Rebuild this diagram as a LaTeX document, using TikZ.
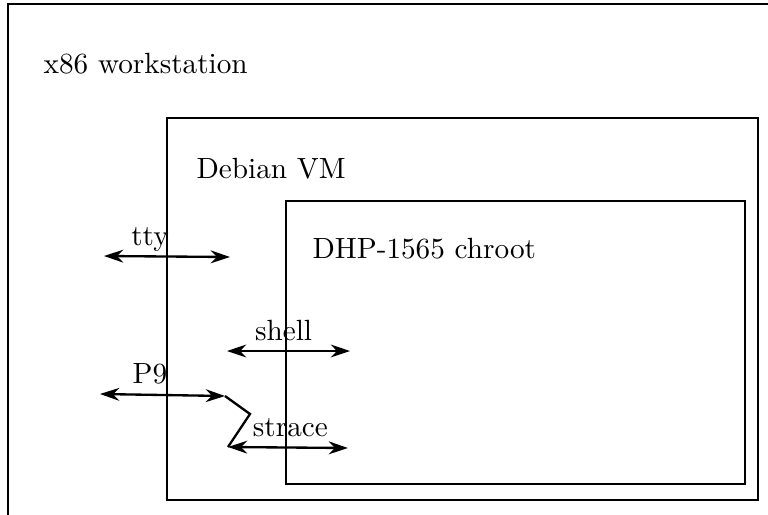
\documentclass[tikz,border=0pt]{standalone}
\usetikzlibrary{arrows.meta, positioning, fit}

\begin{document}
\begin{tikzpicture}[x=0.342pt, y=-0.342pt,
    box/.style={draw, thick, inner sep=0pt, outer sep=0pt},
    boxlabel/.style={anchor=base west, inner sep=0pt},
    link/.style={{Stealth[length=6.6pt, width=4.4pt]}-{Stealth[length=6.6pt, width=4.4pt]}, thick},
    linklabel/.style={above, text depth=0pt, inner sep=3.3pt}]
  \useasboundingbox (0,0) rectangle (768,514);
  \clip (0,0) rectangle (768,514);

  % nested hosts
  \coordinate (wsA) at (8,4);     \coordinate (wsB) at (800,560);
  \coordinate (vmA) at (167,118); \coordinate (vmB) at (758,500);
  \coordinate (chA) at (286,201); \coordinate (chB) at (745,484);
  \node[box, fit=(wsA)(wsB)] (ws) {};
  \node[box, fit=(vmA)(vmB)] (vm) {};
  \node[box, fit=(chA)(chB)] (chroot) {};
  \node[boxlabel] (wslabel) at (43,73) {x86 workstation};
  \node[boxlabel] (vmlabel) at (196,178) {Debian VM};
  \node[boxlabel] (chrootlabel) at (312,258) {DHP-1565 chroot};

  % channel ends
  \coordinate (ttyL) at (104,256);   \coordinate (ttyR) at (230,257);
  \coordinate (p9L) at (100,394);    \coordinate (p9R) at (225,396);
  \coordinate (shellL) at (227,351); \coordinate (shellR) at (350,351);
  \coordinate (strL) at (228,447);   \coordinate (strR) at (348,448);
  \coordinate (kink) at (250,414);

  \draw[link] (ttyL) -- node[linklabel, pos=0.365] (ttylabel) {tty} (ttyR);
  \draw[link] (p9L) -- node[linklabel, pos=0.4] (p9label) {P9} (p9R);
  \draw[link] (shellL) -- node[linklabel, pos=0.46] (shelllabel) {shell} (shellR);
  \draw[link] (strL) -- node[linklabel, pos=0.52] (strlabel) {strace} (strR);
  \draw[thick] (p9R) -- (kink) -- (strL);
\end{tikzpicture}
\end{document}
